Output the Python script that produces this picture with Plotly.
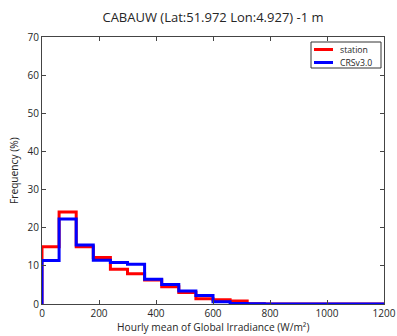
import plotly.graph_objects as go

bin_edges = [0, 60, 120, 180, 240, 300, 360, 420, 480, 540, 600, 660, 720, 780, 840, 900, 960, 1020, 1080, 1140, 1200]
station = [15.0, 24.1, 15.0, 12.2, 9.1, 7.9, 6.3, 4.5, 3.0, 1.4, 1.1, 0.8, 0.05, 0.0, 0.0, 0.0, 0.0, 0.0, 0.0, 0.0]
crs = [11.4, 22.3, 15.5, 11.5, 10.9, 10.4, 6.5, 5.1, 3.4, 2.2, 0.6, 0.1, 0.05, 0.0, 0.0, 0.0, 0.0, 0.0, 0.0, 0.0]
series_names = ["station", "CRSv3.0"]
series_colors = ["#ff0000", "#0000ff"]
x_ticks = [0, 200, 400, 600, 800, 1000, 1200]
y_ticks = [0, 10, 20, 30, 40, 50, 60, 70]
title_text = "CABAUW (Lat:51.972 Lon:4.927) -1 m"
x_title = "Hourly mean of Global Irradiance (W/m²)"
y_title = "Frequency (%)"

def step(vals):
    xs = [bin_edges[0]] + bin_edges
    ys = [0] + vals + [0]
    return xs, ys

fig = go.Figure()
for name, vals, col in zip(series_names, [station, crs], series_colors):
    xs, ys = step(vals)
    fig.add_trace(go.Scatter(x=xs, y=ys, mode="lines", line=dict(color=col, width=3, shape="hv"),
                             name=name, showlegend=False, hoverinfo="skip"))

W, H = 397, 336
L, R, T, B = 42, 13, 37, 32
PW, PH = W - L - R, H - T - B

def px(x):  # page pixel -> paper x
    return (x - L) / PW

def py(y):  # page pixel -> paper y
    return 1 - (y - T) / PH

font = "Open Sans, sans-serif"
txt = "#262626"

shapes = [dict(type="rect", xref="paper", yref="paper", x0=px(311), x1=px(381), y0=py(68), y1=py(42),
               line=dict(color="#333", width=1), fillcolor="white", layer="above")]
annotations = [
    dict(text=x_title, xref="paper", yref="paper", x=px(213), y=py(327), xanchor="center", yanchor="middle",
         showarrow=False, font=dict(size=10.2, color=txt)),
    dict(text=y_title, xref="paper", yref="paper", x=px(14), y=py(171), xanchor="center", yanchor="middle",
         textangle=-90, showarrow=False, font=dict(size=10.2, color=txt)),
]
for i, (name, col) in enumerate(zip(series_names, series_colors)):
    yy = 49.5 + 13 * i
    shapes.append(dict(type="line", xref="paper", yref="paper", x0=px(314), x1=px(333), y0=py(yy), y1=py(yy),
                       line=dict(color=col, width=3), layer="above"))
    annotations.append(dict(text=name, xref="paper", yref="paper", x=px(338), y=py(yy), xanchor="left",
                            yanchor="middle", showarrow=False, font=dict(size=8.7, color=txt)))

fig.update_layout(
    width=W, height=H,
    margin=dict(l=L, r=R, t=T, b=B, autoexpand=False),
    paper_bgcolor="white", plot_bgcolor="white",
    font=dict(family=font, size=10, color=txt),
    title=dict(text=title_text, x=px(213), xanchor="center", xref="paper",
               y=1 - 17 / H, yanchor="middle", font=dict(size=13)),
    showlegend=False, hovermode=False,
    shapes=shapes, annotations=annotations,
)
fig.update_xaxes(range=[0, 1200], tickvals=x_ticks, ticks="inside", ticklen=4, tickcolor="#444",
                 mirror="allticks", showline=True, linecolor="#444", linewidth=1, showgrid=False, zeroline=False,
                 automargin=False, ticklabeloverflow="allow")
fig.update_yaxes(range=[0, 70], tickvals=y_ticks, ticks="inside", ticklen=4, tickcolor="#444",
                 mirror="allticks", showline=True, linecolor="#444", linewidth=1, showgrid=False, zeroline=False,
                 automargin=False, ticklabeloverflow="allow")
fig.write_html("out.html", config={"displayModeBar": False, "staticPlot": True},
               post_script="document.body.style.margin='0';document.body.style.overflow='hidden';")
